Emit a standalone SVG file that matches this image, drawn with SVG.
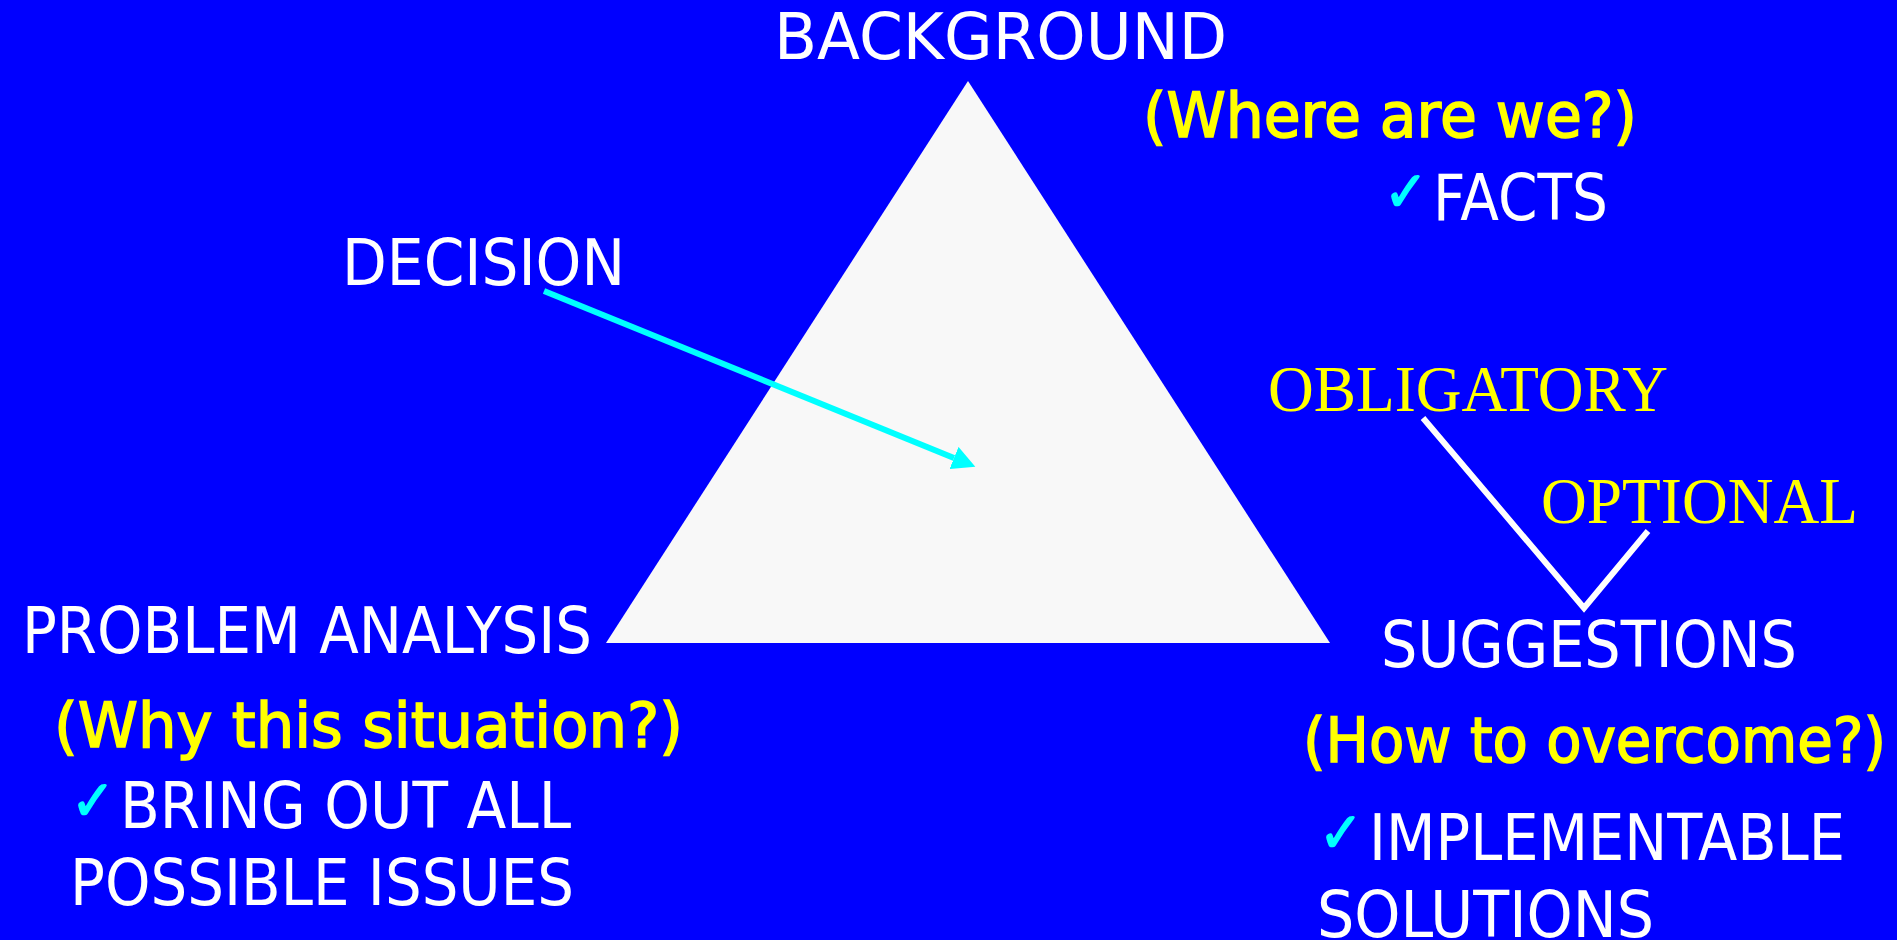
<svg xmlns="http://www.w3.org/2000/svg" width="1897" height="940" viewBox="0 0 1897 940">
<style>
.w{fill:#ffffff;font-family:"DejaVu Sans","Liberation Sans",sans-serif;font-size:64px}
.y{fill:#ffff00;stroke:#ffff00;stroke-width:1.6px;font-family:"DejaVu Sans","Liberation Sans",sans-serif;font-size:63px}
.s{fill:#ffff00;font-family:"Liberation Serif","DejaVu Serif",serif;font-size:65px}
.c{fill:#00ffff;stroke:#00ffff;stroke-width:1.5px;font-family:"DejaVu Sans",sans-serif;font-size:56px;font-weight:bold}
</style>
<defs>
<marker id="ah" markerUnits="userSpaceOnUse" markerWidth="24" markerHeight="24" refX="0" refY="12" orient="auto" viewBox="0 0 24 24">
<path d="M0,0 L23,12 L0,24 Z" fill="#00ffff"/>
</marker>
</defs>
<rect x="0" y="0" width="1897" height="940" fill="#0000ff"/>
<g id="triangle">
<polygon points="968,81 1330,643 606,643" fill="#f8f8f8"/>
</g>
<g id="connectors">
<path d="M544,291 L954,458" stroke="#00ffff" stroke-width="6" fill="none" marker-end="url(#ah)"/>
<polyline points="1423,418 1584,608 1648,531" stroke="#ffffff" stroke-width="6" fill="none"/>
</g>
<g id="background">
<text class="w" x="774" y="59" textLength="453" lengthAdjust="spacingAndGlyphs">BACKGROUND</text>
<text class="y" x="1143" y="137" textLength="494" lengthAdjust="spacingAndGlyphs">(Where are we?)</text>
<text class="c" x="1384" y="211" textLength="44" lengthAdjust="spacingAndGlyphs">✓</text>
<text class="w" x="1433" y="220" textLength="175" lengthAdjust="spacingAndGlyphs">FACTS</text>
</g>
<g id="decision">
<text class="w" x="342" y="285" textLength="283" lengthAdjust="spacingAndGlyphs">DECISION</text>
</g>
<g id="problem-analysis">
<text class="w" x="22" y="653" textLength="570" lengthAdjust="spacingAndGlyphs">PROBLEM ANALYSIS</text>
<text class="y" x="54" y="747" textLength="629" lengthAdjust="spacingAndGlyphs">(Why this situation?)</text>
<text class="c" x="71" y="820" textLength="44" lengthAdjust="spacingAndGlyphs">✓</text>
<text class="w" x="120" y="828" textLength="451" lengthAdjust="spacingAndGlyphs">BRING OUT ALL</text>
<text class="w" x="70" y="905" textLength="504" lengthAdjust="spacingAndGlyphs">POSSIBLE ISSUES</text>
</g>
<g id="obligatory">
<text class="s" x="1268" y="411" textLength="400" lengthAdjust="spacingAndGlyphs">OBLIGATORY</text>
</g>
<g id="optional">
<text class="s" x="1541" y="523" textLength="317" lengthAdjust="spacingAndGlyphs">OPTIONAL</text>
</g>
<g id="suggestions">
<text class="w" x="1381" y="667" textLength="416" lengthAdjust="spacingAndGlyphs">SUGGESTIONS</text>
<text class="y" x="1303" y="762" textLength="583" lengthAdjust="spacingAndGlyphs">(How to overcome?)</text>
<text class="c" x="1319" y="852" textLength="44" lengthAdjust="spacingAndGlyphs">✓</text>
<text class="w" x="1369" y="860" textLength="476" lengthAdjust="spacingAndGlyphs">IMPLEMENTABLE</text>
<text class="w" x="1317" y="937" textLength="337" lengthAdjust="spacingAndGlyphs">SOLUTIONS</text>
</g>
</svg>
